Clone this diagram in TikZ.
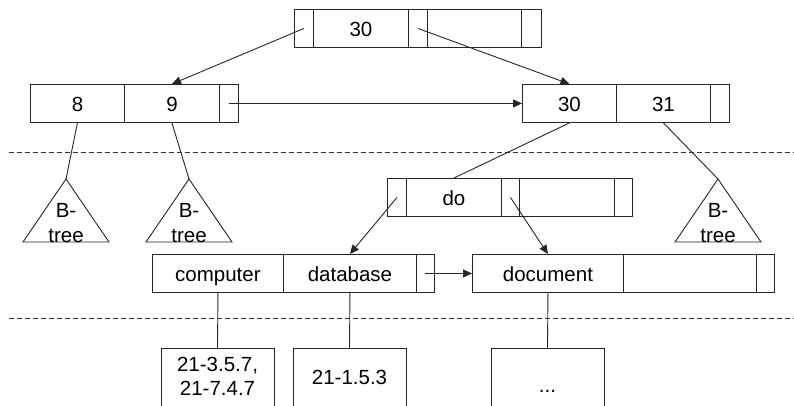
\documentclass[tikz,border=0pt]{standalone}
\usepackage{fontspec}
\setmainfont{Liberation Sans}
\usetikzlibrary{arrows.meta}

\tikzset{
  line/.style={line width=0.9pt, draw=black!85},
  cell/.style={line, inner sep=0pt, minimum height=38pt, anchor=north west,
               text height=16pt, text depth=0pt},
  ptr/.style={line, -{Triangle[length=9pt,width=8pt]}},
  link/.style={line},
  sep/.style={line width=0.8pt, draw=black!80, dash pattern=on 5pt off 3pt},
  leaf/.style={line, inner sep=0pt, minimum width=113pt, minimum height=80pt, anchor=north},
  txt/.style={inner sep=0pt, anchor=base},
}

\begin{document}
\begin{tikzpicture}[x=1pt, y=-1pt, font=\fontsize{20.5}{24}\selectfont]
\useasboundingbox (0,0) rectangle (794,405);
\clip (0,0) rectangle (794,405);

% separators between the levels
\draw[sep] (9,152.5) coordinate (s1a) -- (794,152.5) coordinate (s1b);
\draw[sep] (9,318) coordinate (s2a) -- (794,318) coordinate (s2b);

% root record
\node[cell, minimum width=19pt] (t1) at (294,9) {};
\node[cell, minimum width=95pt] (t2) at (313,9) {30};
\node[cell, minimum width=19pt] (t3) at (408,9) {};
\node[cell, minimum width=94pt] (t4) at (427,9) {};
\node[cell, minimum width=20pt] (t5) at (521,9) {};

% second level, left record
\node[cell, minimum width=94pt] (a1) at (30,84) {8};
\node[cell, minimum width=95pt] (a2) at (124,84) {9};
\node[cell, minimum width=19pt] (a3) at (219,84) {};

% second level, right record
\node[cell, minimum width=94pt] (b1) at (522,84) {30};
\node[cell, minimum width=94pt] (b2) at (616,84) {31};
\node[cell, minimum width=19pt] (b3) at (710,84) {};

% inner record "do"
\node[cell, minimum width=19pt] (d1) at (387,178) {};
\node[cell, minimum width=95pt] (d2) at (406,178) {do};
\node[cell, minimum width=18pt] (d3) at (501,178) {};
\node[cell, minimum width=95pt] (d4) at (519,178) {};
\node[cell, minimum width=18pt] (d5) at (614,178) {};

% leaf records
\node[cell, minimum width=131pt] (c1) at (152,254) {computer};
\node[cell, minimum width=133pt] (c2) at (283,254) {database};
\node[cell, minimum width=18pt]  (c3) at (416,254) {};

\node[cell, minimum width=151pt] (e1) at (472,254) {document};
\node[cell, minimum width=133pt] (e2) at (623,254) {};
\node[cell, minimum width=18pt]  (e3) at (756,254) {};

% sub-trees
\coordinate (p1) at (66,179);
\coordinate (p2) at (189,179);
\coordinate (p3) at (718,179);
\foreach \p in {p1,p2,p3}
  \draw[line] (\p) -- ++(-43,63) -- ++(86,0) -- cycle;
\node[txt] (p1a) at (66,217) {B-};
\node[txt] (p1b) at (66,242) {tree};
\node[txt] (p2a) at (189,217) {B-};
\node[txt] (p2b) at (189,242) {tree};
\node[txt] (p3a) at (718,217) {B-};
\node[txt] (p3b) at (718,242) {tree};

% posting lists
\node[leaf] (l1) at (217.5,348) {};
\node[leaf] (l2) at (349.5,348) {};
\node[leaf] (l3) at (547.5,348) {};
\node[txt] (l1a) at (217.5,371) {21-3.5.7,};
\node[txt] (l1b) at (217.5,395) {21-7.4.7};
\node[txt] (l2a) at (349.5,384) {21-1.5.3};
\node[txt] (l3a) at (547.5,392) {...};

% pointers
\draw[ptr] (t1.center) -- (a2.north);
\draw[ptr] (t3.center) -- (b1.north);
\draw[ptr] (a3.center) -- (b1.west);
\draw[ptr] (d1.center) -- (c2.north);
\draw[ptr] (d3.center) -- (e1.north);
\draw[ptr] (c3.center) -- (e1.west);

% plain links
\draw[link] (a1.south) -- (p1);
\draw[link] (a2.south) -- (p2);
\draw[link] (b2.south) -- (p3);
\draw[link] (b1.south) -- (d2.north);
\draw[link] (c1.south) -- (l1.north);
\draw[link] (c2.south) -- (l2.north);
\draw[link] (e1.south) -- (l3.north);
\end{tikzpicture}
\end{document}
